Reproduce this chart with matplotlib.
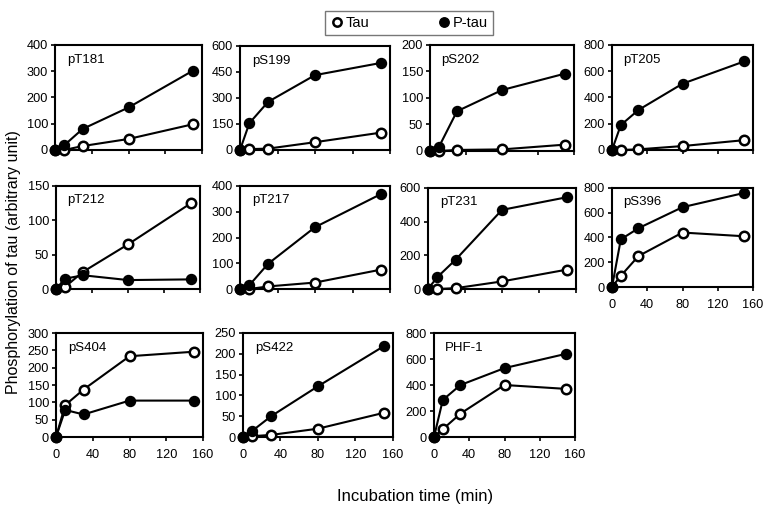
"""Phosphorylation time courses of tau vs P-tau, 11 small panels."""

import matplotlib
matplotlib.use("Agg")
import matplotlib.pyplot as plt
from matplotlib.lines import Line2D

plt.rcParams["font.family"] = ["Liberation Sans", "DejaVu Sans"]

W, H = 766, 509

time_min = [0, 10, 30, 80, 150]

site_names = ["pT181", "pS199", "pS202", "pT205",
              "pT212", "pT217", "pT231", "pS396",
              "pS404", "pS422", "PHF-1"]

ptau_values = [
    [0, 18, 80, 162, 302],
    [0, 155, 278, 432, 502],
    [0, 8, 75, 115, 146],
    [0, 190, 305, 505, 675],
    [0, 15, 20, 13, 14],
    [0, 15, 98, 240, 368],
    [0, 70, 175, 470, 545],
    [0, 385, 475, 645, 760],
    [0, 78, 65, 105, 105],
    [0, 15, 50, 122, 218],
    [0, 285, 400, 530, 640],
]

tau_values = [
    [0, 0, 15, 42, 98],
    [0, 5, 8, 45, 100],
    [0, 0, 2, 3, 12],
    [0, 0, 5, 30, 75],
    [0, 3, 25, 65, 125],
    [0, 0, 10, 25, 75],
    [0, 0, 5, 45, 115],
    [0, 90, 250, 440, 410],
    [0, 92, 137, 233, 246],
    [0, 2, 5, 20, 58],
    [0, 60, 180, 400, 370],
]

y_max = [400, 600, 200, 800, 150, 400, 600, 800, 300, 250, 800]
y_step = [100, 150, 50, 200, 50, 100, 200, 200, 50, 50, 200]

x_ticks = [0, 40, 80, 120, 160]

# pixel boxes (left, top, right, bottom)
panel_boxes = [
    (55, 45, 202, 150), (240, 46, 390, 150), (430, 45, 574, 151), (612, 45, 753, 150),
    (56, 186, 200, 289), (240, 186, 390, 289), (428, 188, 576, 289), (612, 188, 753, 287),
    (56, 333, 203, 437), (243, 333, 393, 437), (434, 333, 575, 437),
]
x_labelled = {"pS396", "pS404", "pS422", "PHF-1"}


def px_rect(left, top, right, bottom):
    return [left / W, 1 - bottom / H, (right - left) / W, (bottom - top) / H]


fig = plt.figure(figsize=(W / 100, H / 100), dpi=100)

for name, ptau, tau, ymax, ystep, box in zip(
        site_names, ptau_values, tau_values, y_max, y_step, panel_boxes):
    ax = fig.add_axes(px_rect(*box))
    ax.plot(time_min, tau, color="black", lw=1.5, marker="o", ms=6.8,
            mfc="white", mec="black", mew=1.8, clip_on=False, zorder=3)
    ax.plot(time_min, ptau, color="black", lw=1.5, marker="o", ms=7.2,
            mfc="black", mec="black", clip_on=False, zorder=4)
    ax.set_xlim(0, 160)
    ax.set_ylim(0, ymax)
    ax.set_xticks(x_ticks)
    ax.set_yticks(list(range(0, ymax + 1, ystep)))
    ax.tick_params(direction="out", length=3, width=1.2, labelsize=9.2,
                   pad=2, colors="black")
    ax.tick_params(axis="x", pad=6)
    if name not in x_labelled:
        ax.set_xticklabels([])
    for sp in ax.spines.values():
        sp.set_linewidth(1.5)
    ax.text(0.08, 0.86, name, transform=ax.transAxes, fontsize=9.5,
            va="center", ha="left")

fig.text(14 / W, 1 - 262 / H, "Phosphorylation of tau (arbitrary unit)",
         rotation=90, ha="center", va="center", fontsize=11.5)
fig.text(415 / W, 1 - 496 / H, "Incubation time (min)",
         ha="center", va="center", fontsize=12)

handles = [
    Line2D([], [], ls="none", marker="o", ms=6, mfc="white", mec="black", mew=1.8),
    Line2D([], [], ls="none", marker="o", ms=6.8, mfc="black", mec="black"),
]
leg = fig.legend(handles, ["Tau", "P-tau"], loc="center",
                 bbox_to_anchor=(409 / W, 1 - 23 / H), ncol=2, frameon=True,
                 fancybox=False, fontsize=10.5, handletextpad=0.1,
                 columnspacing=4.6, handlelength=1.0, borderpad=0.35)
leg.get_frame().set_edgecolor("#555555")
leg.get_frame().set_linewidth(1.0)

fig.savefig("out.png", dpi=100)
